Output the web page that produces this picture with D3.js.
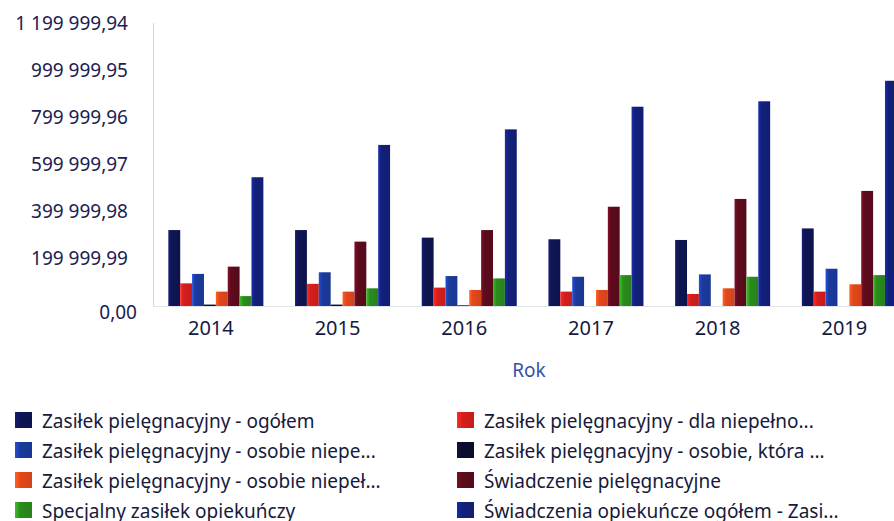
<!DOCTYPE html>
<html>
<head>
<meta charset="utf-8">
<script src="https://cdn.jsdelivr.net/npm/d3@7"></script>
<style>
  html, body { margin: 0; padding: 0; background: #ffffff; }
  svg { display: block; }
  text { font-family: "Noto Sans", "Open Sans", sans-serif; }
</style>
</head>
<body>
<svg id="chart" width="894" height="521"></svg>
<script>
// Years on the category axis
const years = ["2014", "2015", "2016", "2017", "2018", "2019"];

// Series names (legend order, row by row)
const seriesNames = [
  "Zasiłek pielęgnacyjny - ogółem",
  "Zasiłek pielęgnacyjny - dla niepełno...",
  "Zasiłek pielęgnacyjny - osobie niepe...",
  "Zasiłek pielęgnacyjny - osobie, która ...",
  "Zasiłek pielęgnacyjny -  osobie niepeł...",
  "Świadczenie pielęgnacyjne",
  "Specjalny zasiłek opiekuńczy",
  "Świadczenia opiekuńcze ogółem - Zasi..."
];

// Values per series, one per year
const zasilekOgolem      = [322000, 322000, 290000, 283000, 280000, 329000];
const zasilekDlaNiepelno = [96000, 94000, 78000, 61000, 51000, 61000];
const zasilekNiepe       = [136000, 143000, 127000, 124000, 134000, 158000];
const zasilekKtora       = [6000, 6000, 3000, 0, 0, 0];
const zasilekNiepel      = [61000, 61000, 68000, 68000, 75000, 92000];
const swiadczeniePiel    = [167000, 273000, 322000, 421000, 454000, 488000];
const specjalnyZasilek   = [42000, 75000, 117000, 131000, 124000, 131000];
const swiadczeniaOgolem  = [546000, 683000, 749000, 845000, 868000, 955000];

const seriesValues = [
  zasilekOgolem, zasilekDlaNiepelno, zasilekNiepe, zasilekKtora,
  zasilekNiepel, swiadczeniePiel, specjalnyZasilek, swiadczeniaOgolem
];

// Y tick values
const yTicks = [0, 199999.99, 399999.98, 599999.97, 799999.96, 999999.95, 1199999.94];

const seriesColors = [
  "#0e1552", "#d41f1c", "#1b3a9c", "#0a0d2c",
  "#e2481b", "#5c0b1c", "#2a8c1c", "#12207a"
];

const svg = d3.select("#chart");

const y = d3.scaleLinear().domain([0, 1199999.94]).range([306, 23]);
const x0 = d3.scaleBand().domain(years).range([152.5, 912.7])
  .paddingInner(0.25).paddingOuter(0.125);
const x1 = d3.scaleBand().domain(d3.range(seriesNames.length))
  .range([0, x0.bandwidth()]);

// Gloss gradients per series (lighter left edge)
const defs = svg.append("defs");
seriesColors.forEach((c, i) => {
  const g = defs.append("linearGradient").attr("id", "g" + i)
    .attr("x1", "0%").attr("x2", "100%").attr("y1", "0%").attr("y2", "0%");
  g.append("stop").attr("offset", "0%").attr("stop-color", d3.color(c).brighter(0.9));
  g.append("stop").attr("offset", "30%").attr("stop-color", c);
  g.append("stop").attr("offset", "100%").attr("stop-color", d3.color(c).darker(0.2));
});

// Number format: space thousands, comma decimals
const fmtLocale = d3.formatLocale({ decimal: ",", thousands: " ", grouping: [3], currency: ["", ""] });
const fmt = fmtLocale.format(",.2f");

// Y axis line
svg.append("line")
  .attr("x1", 153.5).attr("x2", 153.5)
  .attr("y1", y(1199999.94)).attr("y2", y(0))
  .attr("stroke", "#d4d6de").attr("stroke-width", 1);

// Baseline
svg.append("line")
  .attr("x1", 153.5).attr("x2", 894)
  .attr("y1", y(0) + 0.5).attr("y2", y(0) + 0.5)
  .attr("stroke", "#e2e3ea").attr("stroke-width", 1);

// Y tick labels
svg.append("g").selectAll("text").data(yTicks).join("text")
  .attr("x", (d, i) => i === 0 ? 137 : 128)
  .attr("y", (d, i) => y(d) + (i === 0 ? 6 : 0))
  .attr("dy", "0.35em")
  .attr("text-anchor", "end")
  .attr("font-size", 19)
  .attr("fill", "#1b2150")
  .text(d => fmt(d));

// Bars
const groups = svg.append("g").selectAll("g").data(years).join("g")
  .attr("transform", d => `translate(${x0(d)},0)`);

groups.selectAll("rect")
  .data((yr, yi) => seriesValues.map((vals, si) => ({ si, v: vals[yi] })))
  .join("rect")
  .attr("x", d => x1(d.si))
  .attr("width", x1.bandwidth())
  .attr("y", d => y(d.v))
  .attr("height", d => y(0) - y(d.v))
  .attr("fill", d => `url(#g${d.si})`);

// X labels
svg.append("g").selectAll("text").data(years).join("text")
  .attr("x", d => x0(d) + x0.bandwidth() / 2 - 5)
  .attr("y", 335)
  .attr("text-anchor", "middle")
  .attr("font-size", 20)
  .attr("fill", "#151a40")
  .text(d => d);

// Axis title
svg.append("text")
  .attr("x", 529).attr("y", 377)
  .attr("text-anchor", "middle")
  .attr("font-size", 19)
  .attr("fill", "#3552a6")
  .text("Rok");

// Legend (two columns, row-major)
const legend = svg.append("g").selectAll("g").data(seriesNames).join("g")
  .attr("transform", (d, i) => `translate(${i % 2 === 0 ? 15 : 457},${412 + Math.floor(i / 2) * 30})`);

legend.append("rect")
  .attr("width", 17).attr("height", 16)
  .attr("fill", (d, i) => `url(#g${i})`);

legend.append("text")
  .attr("x", 27).attr("y", 15.5)
  .attr("font-size", 19)
  .attr("fill", "#161a3c")
  .text(d => d);
</script>
</body>
</html>
